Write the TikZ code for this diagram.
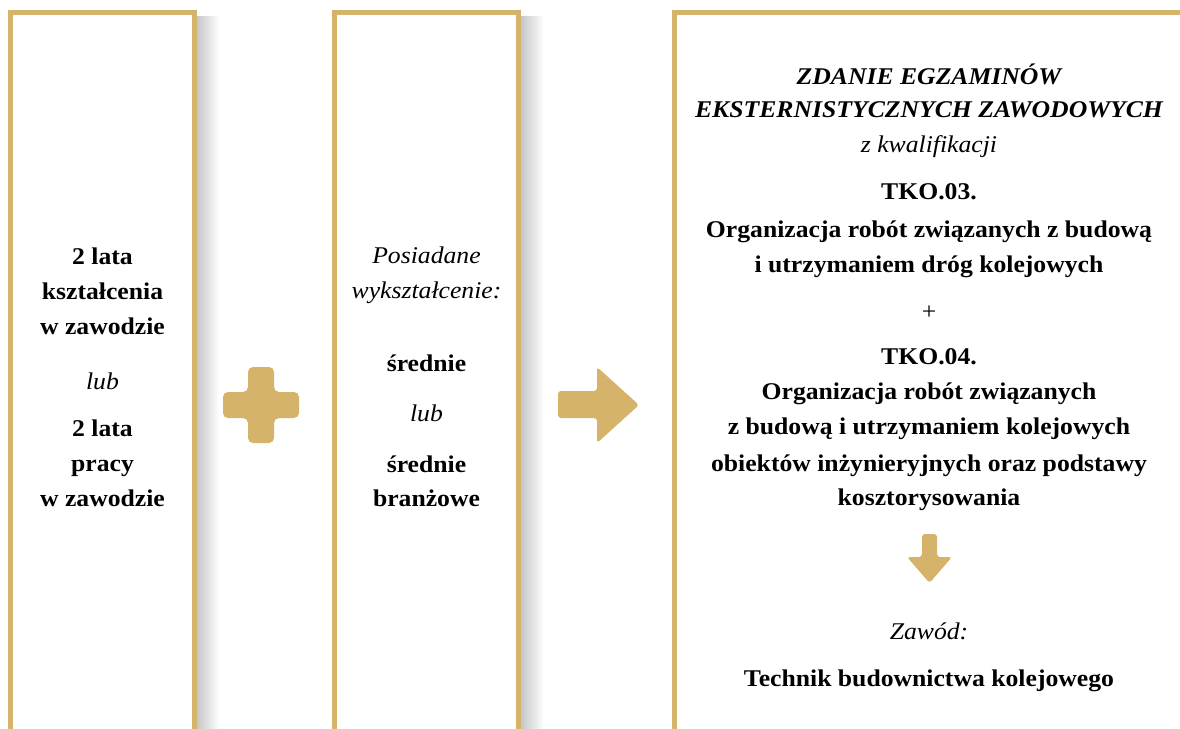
\documentclass[tikz,border=0pt]{standalone}
\usepackage{fontspec}
\setmainfont{Liberation Serif}[FakeStretch=1.07]
\definecolor{gold}{RGB}{214,179,106}
\begin{document}
\begin{tikzpicture}[x=1pt,y=-1pt,
  frame/.style={draw=gold, line width=5pt},
  shadowbar/.style={left color=black!22, right color=white, draw=none},
  goldshape/.style={fill=gold, draw=none, rounded corners=5pt},
  txt/.style={anchor=base, inner sep=0pt, text=black, font=\fontsize{24}{30}\selectfont},
  bt/.style={txt, font=\fontsize{24}{30}\selectfont\bfseries},
  it/.style={txt, font=\fontsize{24}{30}\selectfont\itshape},
  bit/.style={txt, font=\fontsize{24}{30}\selectfont\bfseries\itshape},
]
\useasboundingbox (0,0) rectangle (1180,728);
\begin{scope}
\clip (0,0) rectangle (1180,728);
% shadows
\shade[shadowbar] (197,16) rectangle (219,740);
\shade[shadowbar] (521,16) rectangle (544,740);
% frames
\draw[frame] (10.5,740) -- (10.5,12.5) -- (194.5,12.5) -- (194.5,740);
\draw[frame] (334.5,740) -- (334.5,12.5) -- (518.5,12.5) -- (518.5,740);
\draw[frame] (674.5,740) -- (674.5,12.5) -- (1200,12.5);
\end{scope}
% plus
\fill[goldshape] (248,367) -- (274,367) -- (274,392) -- (299,392) -- (299,418) -- (274,418)
  -- (274,443) -- (248,443) -- (248,418) -- (223,418) -- (223,392) -- (248,392) -- cycle;
% right arrow
\fill[goldshape, rounded corners=3pt] (558,391) -- (597,391) -- (597,367) -- (639,405)
  -- (597,443) -- (597,418) -- (558,418) -- cycle;
% down arrow
\fill[goldshape, rounded corners=3pt] (922,534) -- (937,534) -- (937,557) -- (952,557)
  -- (929.5,583) -- (907,557) -- (922,557) -- cycle;
% box 1
\node[bt] (a1) at (102.5,264) {2 lata};
\node[bt] (a2) at (102.5,299) {kształcenia};
\node[bt] (a3) at (102.5,334) {w zawodzie};
\node[it] (a4) at (102.5,389) {lub};
\node[bt] (a5) at (102.5,436) {2 lata};
\node[bt] (a6) at (102.5,471) {pracy};
\node[bt] (a7) at (102.5,506) {w zawodzie};
% box 2
\node[it] (b1) at (426.5,263) {Posiadane};
\node[it] (b2) at (426.5,298) {wykształcenie:};
\node[bt] (b3) at (426.5,371) {średnie};
\node[it] (b4) at (426.5,421) {lub};
\node[bt] (b5) at (426.5,472) {średnie};
\node[bt] (b6) at (426.5,506) {branżowe};
% box 3
\node[bit] (c1) at (929,84) {ZDANIE EGZAMINÓW};
\node[bit] (c2) at (929,117) {EKSTERNISTYCZNYCH ZAWODOWYCH};
\node[it] (c3) at (929,152) {z kwalifikacji};
\node[bt] (c4) at (929,199) {TKO.03.};
\node[bt] (c5) at (929,237) {Organizacja robót związanych z budową};
\node[bt] (c6) at (929,272) {i utrzymaniem dróg kolejowych};
\node[txt, anchor=center] (c7) at (929,313) {+};
\node[bt] (c8) at (929,364) {TKO.04.};
\node[bt] (c9) at (929,399) {Organizacja robót związanych};
\node[bt] (c10) at (929,434) {z budową i utrzymaniem kolejowych};
\node[bt] (c11) at (929,471) {obiektów inżynieryjnych oraz podstawy};
\node[bt] (c12) at (929,505) {kosztorysowania};
\node[it] (c13) at (929,639) {Zawód:};
\node[bt] (c14) at (929,686) {Technik budownictwa kolejowego};
\end{tikzpicture}
\end{document}
